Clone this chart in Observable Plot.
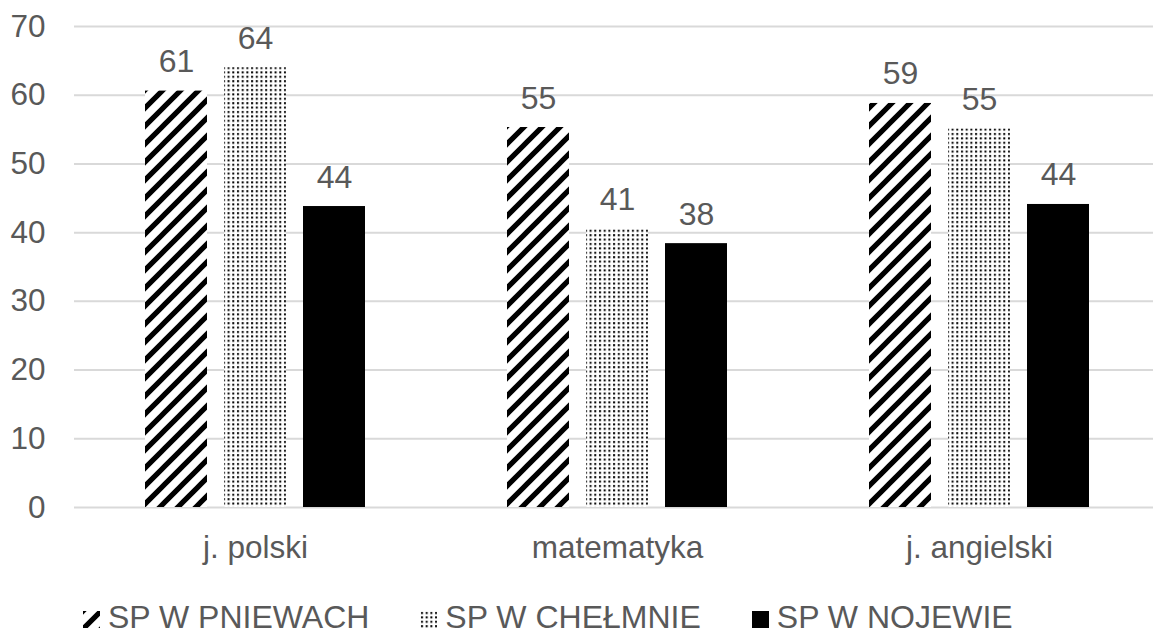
<!DOCTYPE html>
<html>
<head>
<meta charset="utf-8">
<script src="https://cdn.jsdelivr.net/npm/d3@7"></script>
<script src="https://cdn.jsdelivr.net/npm/@observablehq/plot@0.6"></script>
<style>
  html, body { margin: 0; padding: 0; background: #fff; overflow: hidden; }
  #wrap { width: 1153px; height: 635px; overflow: hidden; position: relative; }
  #chart { width: 1153px; overflow: hidden; }
  #chart svg { display: block; max-width: none !important; }
  #legend {
    display: flex; align-items: baseline;
    margin-top: 19px; padding-left: 83px;
    font-family: 'Liberation Sans', Arial, sans-serif; font-size: 32px; line-height: 36px;
    color: #595959; white-space: nowrap;
  }
  #legend .item { display: inline-flex; align-items: baseline; margin-right: 51px; }
  #legend svg { width: 17px; height: 17px; margin-right: 8px; vertical-align: baseline; }
</style>
</head>
<body>
<div id="wrap">
  <div id="chart"></div>
  <div id="legend"></div>
</div>
<script>
// ---- data ----
const categories = ["j. polski", "matematyka", "j. angielski"];
const series = ["SP W PNIEWACH", "SP W CHEŁMNIE", "SP W NOJEWIE"];
const valuesPniewach = [60.6, 55.3, 58.8];
const valuesChelmno = [64.0, 40.6, 55.1];
const valuesNojewo = [43.8, 38.4, 44.1];
const yTicks = [0, 10, 20, 30, 40, 50, 60, 70];

const seriesValues = [valuesPniewach, valuesChelmno, valuesNojewo];
const data = [];
categories.forEach((c, i) => {
  series.forEach((s, j) => {
    data.push({subject: c, school: s, value: seriesValues[j][i]});
  });
});

const fills = ["url(#pat-stripes)", "url(#pat-dots)", "#000000"];
const textColor = "#595959";
const font = "'Liberation Sans', Arial, sans-serif";

const chart = Plot.plot({
  width: 1160,
  height: 580,
  marginLeft: 73,
  marginRight: 0,
  marginTop: 26,
  marginBottom: 73,
  style: {fontFamily: font, fontSize: "31.5px", color: textColor, background: "white", maxWidth: "none"},
  fx: {domain: categories, padding: 0, label: null},
  x: {domain: series, paddingInner: 0.2125, paddingOuter: 0.872, axis: null},
  y: {domain: [0, 70], label: null},
  color: {domain: series, range: fills},
  marks: [
    Plot.gridY(yTicks, {stroke: "#d9d9d9", strokeOpacity: 1, strokeWidth: 2}),
    Plot.axisY(yTicks, {tickSize: 0, tickPadding: 29, fontSize: 31.5, fill: textColor, label: null}),
    Plot.axisFx({anchor: "bottom", tickSize: 0, tickPadding: 28, fontSize: 31.5, fill: textColor, label: null}),
    Plot.barY(data, {fx: "subject", x: "school", y: "value", fill: "school"}),
    Plot.text(data, {
      fx: "subject", x: "school", y: "value",
      text: d => String(Math.round(d.value)),
      lineAnchor: "bottom", dy: -19,
      fill: textColor, fontSize: 32
    })
  ]
});
chart.style.maxWidth = "none";

const defs = `
  <pattern id="pat-stripes" patternUnits="userSpaceOnUse" width="18" height="18">
    <rect width="18" height="18" fill="#fff"/>
    <path d="M-9,9 L9,-9 M0,18 L18,0 M9,27 L27,9" stroke="#000" stroke-width="5.2"/>
  </pattern>
  <pattern id="pat-dots" patternUnits="userSpaceOnUse" width="4.7" height="4.4">
    <rect width="4.7" height="4.4" fill="#fff"/>
    <rect x="1" y="1" width="2" height="2" fill="#000"/>
  </pattern>`;
d3.select(chart).insert("defs", ":first-child").html(defs);
document.getElementById("chart").appendChild(chart);

// ---- legend ----
const legend = d3.select("#legend");
series.forEach((s, j) => {
  const item = legend.append("span").attr("class", "item");
  const sw = item.append("svg").attr("viewBox", "0 0 17 17");
  sw.append("rect").attr("x", 0).attr("y", 0).attr("width", 17).attr("height", 17).attr("fill", fills[j]);
  item.append("span").text(s);
});
</script>
</body>
</html>
